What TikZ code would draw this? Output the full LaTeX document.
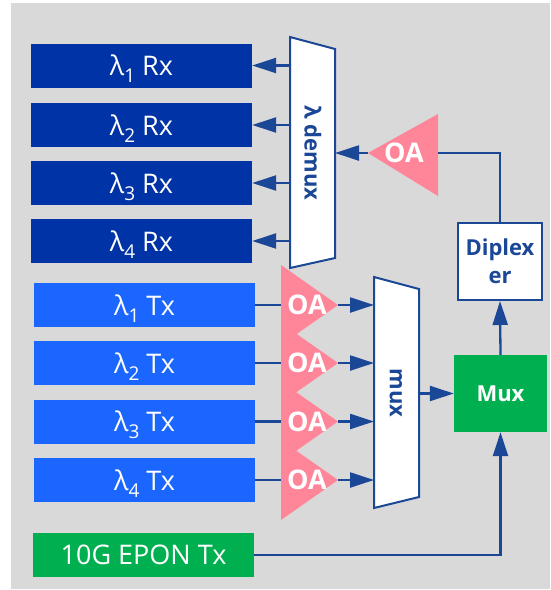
\documentclass[tikz,border=0pt]{standalone}
\usepackage{fontspec}
\setmainfont{Open Sans}
\usetikzlibrary{arrows.meta}
\definecolor{bg}{HTML}{D9D9D9}
\definecolor{rxc}{HTML}{0033A6}
\definecolor{txc}{HTML}{1A66FF}
\definecolor{grn}{HTML}{00B050}
\definecolor{pnk}{HTML}{FF8599}
\definecolor{ln}{HTML}{1B4797}
\newcommand{\lsub}[1]{\raisebox{-7pt}[0pt][0pt]{\fontsize{19}{19}\selectfont #1}}
\begin{document}
\begin{tikzpicture}[x=1pt,y=-1pt,
  box/.style={minimum width=221pt,minimum height=44pt,inner sep=0pt,text=white,font=\fontsize{27}{30}\selectfont},
  rx/.style={box,fill=rxc},
  tx/.style={box,fill=txc},
  epon/.style={box,fill=grn},
  conn/.style={draw=ln,line width=2.3pt},
  arr/.style={conn,-{Triangle[length=24pt,width=15pt]}},
  trap/.style={draw=ln,line width=2pt,fill=white,line join=miter},
  vlabel/.style={rotate=-90,text=ln,font=\fontsize{22}{26}\selectfont\bfseries,inner sep=0pt},
  oa/.style={text=white,font=\fontsize{27}{30}\selectfont\bfseries,inner sep=0pt},
  dipl/.style={draw=ln,line width=2pt,fill=white,text=ln,align=center,minimum width=84pt,minimum height=77pt,inner sep=0pt,font=\fontsize{22}{28}\selectfont\bfseries},
  muxbox/.style={fill=grn,text=white,minimum width=93pt,minimum height=77pt,inner sep=0pt,font=\fontsize{22}{26}\selectfont\bfseries}
]
\useasboundingbox (0,0) rectangle (550,590);
\fill[bg] (11,3) rectangle (550,589);

% Rx boxes
\foreach \i/\y in {1/65.5,2/125,3/183,4/241}{
  \node[rx] (rx\i) at (141.5,\y) {λ\lsub{\i} Rx};
  \coordinate (dm\i) at (290,\y);
}
% demux
\coordinate (dmTL) at (290,37);
\coordinate (dmTR) at (335,49);
\coordinate (dmBR) at (335,258);
\coordinate (dmBL) at (290,268);
\draw[trap] (dmTL) -- (dmTR) -- (dmBR) -- (dmBL) -- cycle;
\node[vlabel] (dmlab) at (313,153) {λ demux};
\coordinate (dmin) at (335,153);
\foreach \i in {1,...,4}{
  \draw[arr] (dm\i) -- (rx\i.east);
}

% receive OA
\coordinate (oaT) at (368,153);
\coordinate (oaR) at (438,153);
\fill[pnk] (oaT) -- (438,114) -- (438,196) -- cycle;
\node[oa] (oatxt) at (404,153) {OA};
\draw[arr] (oaT) -- (dmin);

% diplexer and Mux
\node[dipl] (dip) at (500,261.5) {Diplex\\er};
\node[muxbox] (mux) at (500.5,393.5) {Mux};
\draw[conn] (dip.north) -- (dip.north |- oaR) -- (oaR);
\draw[arr] (mux.north) -- (dip.south);

% mux trapezoid
\coordinate (mxTL) at (374,277);
\coordinate (mxTR) at (419,289);
\coordinate (mxBR) at (419,497);
\coordinate (mxBL) at (374,508);
\draw[trap] (mxTL) -- (mxTR) -- (mxBR) -- (mxBL) -- cycle;
\node[vlabel] (mxlab) at (396,393) {mux};
\coordinate (mxout) at (419,393.5);
\draw[arr] (mxout) -- (mux.west);

% Tx boxes and OAs
\foreach \i/\y in {1/305,2/363,3/421.5,4/480}{
  \node[tx] (tx\i) at (144.5,\y) {λ\lsub{\i} Tx};
  \coordinate (oin\i) at (281,\y);
  \coordinate (oout\i) at (338,\y);
  \coordinate (mxin\i) at (374,\y);
  \draw[conn] (tx\i.east) -- (oin\i);
}
\foreach \i/\y in {1/305,2/363,3/421.5,4/480}{
  \fill[pnk] (281,{\y-40}) -- (oout\i) -- (281,{\y+40}) -- cycle;
}
\foreach \i/\y in {1/305,2/363,3/421.5,4/480}{
  \node[oa] (oa\i) at (307,\y) {OA};
  \draw[arr] (oout\i) -- (mxin\i);
}

% 10G EPON
\node[epon] (epon) at (143.5,555) {10G EPON Tx};
\draw[arr] (epon.east) -- (epon.east -| mux.south) -- (mux.south);
\end{tikzpicture}
\end{document}
